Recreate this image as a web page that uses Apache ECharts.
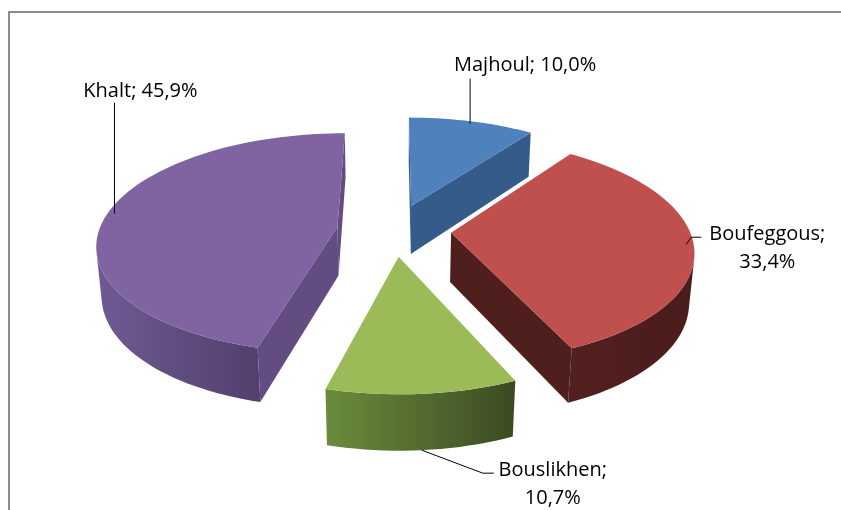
<!DOCTYPE html>
<html>
<head>
<meta charset="utf-8">
<script src="https://cdn.jsdelivr.net/npm/echarts@6/dist/echarts.min.js"></script>
<style>
  html, body { margin: 0; padding: 0; background: #fff; }
  #chart { width: 841px; height: 510px; }
</style>
</head>
<body>
<div id="chart"></div>
<script>
// data
var categories = ['Majhoul', 'Boufeggous', 'Bouslikhen', 'Khalt'];
var shares = [10.0, 33.4, 10.7, 45.9];

// 3d view (Excel-like exploded pie, perspective)
var CX = 394, CY = 230, F = 1430, DIST = 6;
var PHI = 27 * Math.PI / 180;
var EXPLODE = 0.24, DEPTH = 0.235;
var sinP = Math.sin(PHI), cosP = Math.cos(PHI);
var cam = [0, -DIST * cosP, DIST * sinP];

var colors = [
  { top: '#4f81bd', cut: '#355b8b', side: ['#3d6699', '#2f5280'] },
  { top: '#c0504d', cut: '#4f1f1e', side: ['#52201f', '#4a1c1b'] },
  { top: '#9bbb59', cut: '#5d7a33', side: ['#6b8c3e', '#3b4a21'] },
  { top: '#8064a2', cut: '#624c82', side: ['#6f5a94', '#533f6d'] }
];

// label placement relative to leader anchor
var labelLayout = [
  { leader: [[0, -45]], text: [55, -58], wrap: false },
  { leader: [[5, -7], [15, -7]], text: [81, 4], wrap: true },
  { leader: [[61, 23], [72, 23]], text: [131, 34], wrap: true },
  { leader: [[0, -111]], text: [26, -122], wrap: false }
];

function proj(x, y, z) {
  var depth = DIST + y * cosP - z * sinP;
  var up = y * sinP + z * cosP;
  return [CX + F * x / depth, CY - F * up / depth];
}

function facing(n, p) {
  return n[0] * (cam[0] - p[0]) + n[1] * (cam[1] - p[1]) + n[2] * (cam[2] - p[2]) > 0;
}

var total = shares.reduce(function (a, b) { return a + b; }, 0);

function renderSlice(params, api) {
  var i = params.dataIndex;
  var val = api.value(0);
  var before = 0;
  for (var k = 0; k < i; k++) before += shares[k];
  var a0 = before / total * Math.PI * 2;
  var a1 = (before + val) / total * Math.PI * 2;
  var am = (a0 + a1) / 2;
  var tx = EXPLODE * Math.sin(am), ty = EXPLODE * Math.cos(am);
  var col = colors[i];
  var children = [];

  var steps = Math.max(4, Math.ceil((a1 - a0) / (Math.PI / 90)));
  var angs = [];
  for (var s = 0; s <= steps; s++) angs.push(a0 + (a1 - a0) * s / steps);
  function rim(a, z) { return proj(tx + Math.sin(a), ty + Math.cos(a), z); }

  // outer curved side, visible runs only
  var run = null;
  function flush() {
    if (run && run.length > 1) {
      var pts = run.map(function (a) { return rim(a, 0); });
      for (var r = run.length - 1; r >= 0; r--) pts.push(rim(run[r], -DEPTH));
      children.push({
        type: 'polygon', shape: { points: pts },
        style: { fill: new echarts.graphic.LinearGradient(0, 0, 1, 0, [
          { offset: 0, color: col.side[0] }, { offset: 1, color: col.side[1] }]) }
      });
    }
    run = null;
  }
  for (var s2 = 0; s2 < steps; s2++) {
    var mid = (angs[s2] + angs[s2 + 1]) / 2;
    var n = [Math.sin(mid), Math.cos(mid), 0];
    var p = [tx + n[0], ty + n[1], -DEPTH / 2];
    if (facing(n, p)) {
      if (!run) run = [angs[s2]];
      run.push(angs[s2 + 1]);
    } else {
      flush();
    }
  }
  flush();

  // cut faces
  var tip = [tx, ty, -DEPTH / 2];
  [[a0, [-Math.cos(a0), Math.sin(a0), 0]], [a1, [Math.cos(a1), -Math.sin(a1), 0]]].forEach(function (f) {
    if (facing(f[1], tip)) {
      children.push({
        type: 'polygon',
        shape: { points: [proj(tx, ty, 0), rim(f[0], 0), rim(f[0], -DEPTH), proj(tx, ty, -DEPTH)] },
        style: { fill: col.cut }
      });
    }
  });

  // top face
  var topPts = [proj(tx, ty, 0)].concat(angs.map(function (a) { return rim(a, 0); }));
  children.push({ type: 'polygon', shape: { points: topPts }, style: { fill: col.top } });

  // label with leader
  var front = Math.cos(am) < -0.5;
  var anchor = front ? rim(am, -DEPTH)
    : proj(tx + 0.97 * Math.sin(am), ty + 0.97 * Math.cos(am), 0);
  var lay = labelLayout[i];
  var line = [anchor].concat(lay.leader.map(function (d) { return [anchor[0] + d[0], anchor[1] + d[1]]; }));
  children.push({ type: 'polyline', shape: { points: line }, style: { stroke: '#000', lineWidth: 1, fill: null } });
  var pct = (val / total * 100).toFixed(1).replace('.', ',') + '%';
  children.push({
    type: 'text',
    x: anchor[0] + lay.text[0], y: anchor[1] + lay.text[1],
    style: {
      text: categories[i] + ';' + (lay.wrap ? '\n' : ' ') + pct,
      fill: '#000', fontSize: 20, fontFamily: 'Open Sans',
      align: 'center', verticalAlign: 'middle', lineHeight: 28
    }
  });

  return { type: 'group', children: children };
}

var chart = echarts.init(document.getElementById('chart'));
chart.setOption({
  animation: false,
  backgroundColor: '#fff',
  graphic: [{
    type: 'rect', silent: true,
    shape: { x: 9, y: 12, width: 900, height: 600 },
    style: { fill: null, stroke: '#8c8c8c', lineWidth: 2 }
  }],
  series: [{
    type: 'custom',
    coordinateSystem: 'none',
    silent: true,
    renderItem: renderSlice,
    data: shares
  }]
});
</script>
</body>
</html>
